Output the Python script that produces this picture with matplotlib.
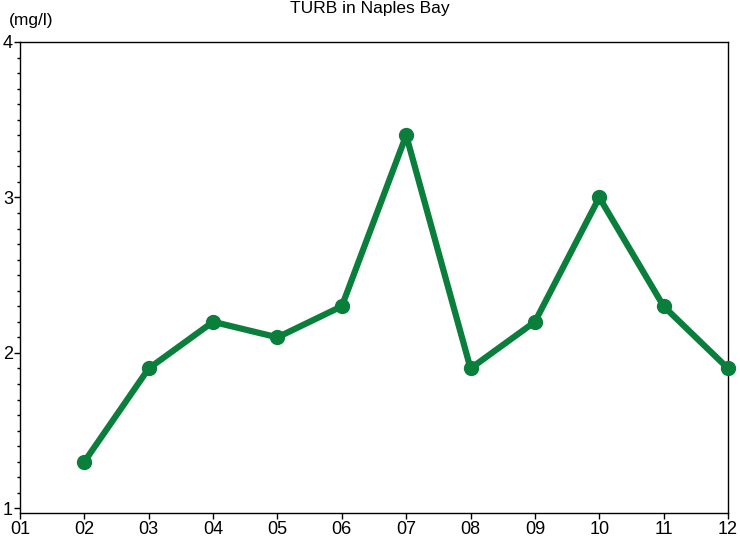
import matplotlib.pyplot as plt
from matplotlib.ticker import MultipleLocator

plt.rcParams['font.family'] = ['Liberation Sans', 'DejaVu Sans']

months = [2, 3, 4, 5, 6, 7, 8, 9, 10, 11, 12]
turb = [1.3, 1.9, 2.2, 2.1, 2.3, 3.4, 1.9, 2.2, 3.0, 2.3, 1.9]
xlabels = ['01', '02', '03', '04', '05', '06', '07', '08', '09', '10', '11', '12']

fig = plt.figure(figsize=(7.4, 5.4), dpi=100)
ax = fig.add_axes([20/740, 1 - 513/540, 708/740, 471/540])

ax.plot(months, turb, color='#0a7f3c', linewidth=4.5, marker='o',
        markersize=10, solid_capstyle='round', clip_on=False, zorder=3)

ax.set_xlim(1, 12)
ax.set_ylim(0.97, 4)
ax.set_xticks(range(1, 13))
ax.set_xticklabels(xlabels)
ax.yaxis.set_major_locator(MultipleLocator(1))
ax.yaxis.set_minor_locator(MultipleLocator(0.1))
ax.tick_params(axis='both', which='major', length=4, width=1, labelsize=13, pad=2, colors='black')
ax.tick_params(axis='y', which='minor', length=2, width=1)
ax.tick_params(axis='y', which='major', pad=1)
for s in ax.spines.values():
    s.set_linewidth(1)

fig.text(370/740, 1 - 8/540, 'TURB in Naples Bay', ha='center', va='center', fontsize=12.5)
fig.text(9/740, 1 - 20/540, '(mg/l)', ha='left', va='center', fontsize=12.5)

fig.savefig('out.png', dpi=100)
